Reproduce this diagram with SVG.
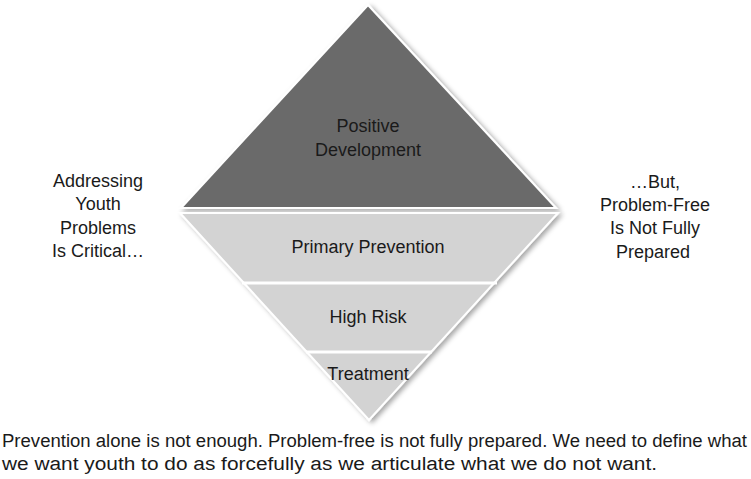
<svg xmlns="http://www.w3.org/2000/svg" width="751" height="479" viewBox="0 0 751 479">
<defs>
<filter id="sh" x="-10%" y="-10%" width="130%" height="130%">
<feDropShadow dx="3" dy="2" stdDeviation="2.5" flood-color="#000" flood-opacity="0.35"/>
</filter>
</defs>
<style>
.t{font-family:"Liberation Sans",Arial,sans-serif;font-size:18px;fill:#1a1a1a;text-anchor:middle}
.b{font-family:"Liberation Sans",Arial,sans-serif;font-size:18px;fill:#1a1a1a}
.dark{fill:#6b6b6b;stroke:#fff;stroke-width:2;filter:url(#sh)}
.light{fill:#d3d3d3;stroke:#fff;stroke-width:2}
.sep{stroke:#fff;stroke-width:3}
</style>
<rect width="751" height="479" fill="#fff"/>
<g id="positive-development">
<polygon class="dark" points="368,5 556,208 181,208"/>
<text class="t" x="368" y="132">Positive</text>
<text class="t" x="368" y="156">Development</text>
</g>
<g id="inverted">
<polygon class="light" points="180,213 558,213 369,420" filter="url(#sh)"/>
</g>
<g id="primary-prevention">
<text class="t" x="368" y="253">Primary Prevention</text>
</g>
<g id="high-risk">
<text class="t" x="368" y="323">High Risk</text>
</g>
<g id="treatment">
<text class="t" x="368" y="380">Treatment</text>
</g>
<g id="connectors">
<line class="sep" x1="242" y1="283" x2="497" y2="283"/>
<line class="sep" x1="306" y1="352" x2="432" y2="352"/>
</g>
<g id="left-label">
<text class="t" x="98" y="187">Addressing</text>
<text class="t" x="98" y="210">Youth</text>
<text class="t" x="98" y="234">Problems</text>
<text class="t" x="98" y="257">Is Critical…</text>
</g>
<g id="right-label">
<text class="t" x="655" y="188">…But,</text>
<text class="t" x="655" y="211">Problem-Free</text>
<text class="t" x="655" y="234">Is Not Fully</text>
<text class="t" x="653" y="258">Prepared</text>
</g>
<g id="caption">
<text class="b" x="2" y="447" textLength="745" lengthAdjust="spacingAndGlyphs">Prevention alone is not enough. Problem-free is not fully prepared. We need to define what</text>
<text class="b" x="2" y="470" textLength="655" lengthAdjust="spacingAndGlyphs">we want youth to do as forcefully as we articulate what we do not want.</text>
</g>
</svg>
